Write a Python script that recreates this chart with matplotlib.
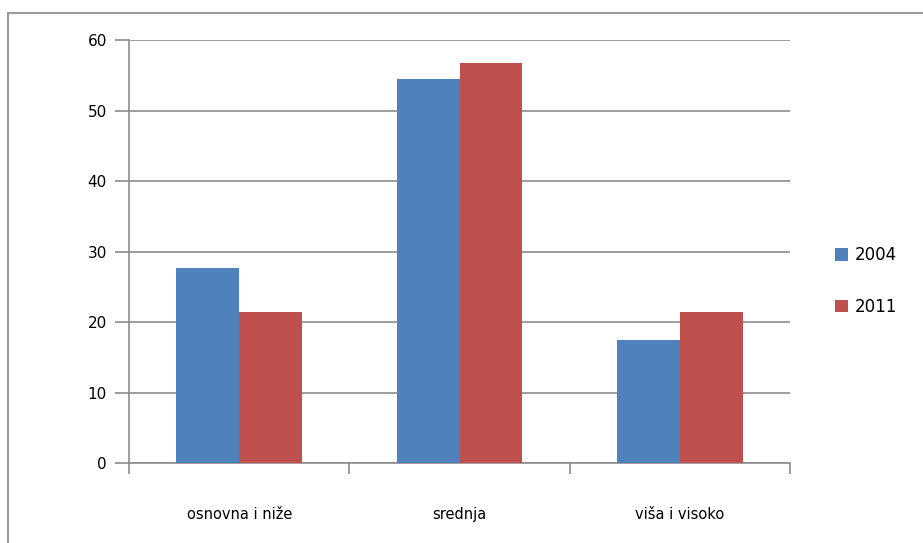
import matplotlib.pyplot as plt
import numpy as np
from matplotlib.patches import Rectangle

# podaci
kategorije = ['osnovna i niže', 'srednja', 'viša i visoko']
godine = ['2004', '2011']
vrijednosti_2004 = [27.6, 54.5, 17.4]
vrijednosti_2011 = [21.4, 56.8, 21.4]
boje = ['#4F81BD', '#C0504D']

fig = plt.figure(figsize=(9.23, 5.43), dpi=100)
ax = fig.add_axes([0.1398, 0.1473, 0.7164, 0.7790])

# okvir oko grafikona
fig.patches.append(Rectangle((8 / 923, -0.05), 1.0, 1 - 13 / 543 + 0.05,
                             transform=fig.transFigure, fill=False,
                             edgecolor='#9a9a9a', linewidth=1.5))

x = np.arange(len(kategorije))
sirina = 0.285
for i, (g, vals, c) in enumerate(zip(godine, [vrijednosti_2004, vrijednosti_2011], boje)):
    ax.bar(x + (i - 0.5) * sirina, vals, width=sirina, color=c, label=g, zorder=3)

ax.set_xlim(-0.5, len(kategorije) - 0.5)
ax.set_ylim(0, 60)
ax.set_yticks(range(0, 61, 10))
ax.yaxis.grid(True, color='#8c8c8c', linewidth=1.2, zorder=0)
ax.set_axisbelow(True)

ax.set_xticks(x)
ax.set_xticklabels(kategorije, fontsize=10.5, family='DejaVu Sans')
ax.set_xticks(np.arange(-0.5, len(kategorije), 1.0), minor=True)
ax.tick_params(axis='x', which='major', length=0, pad=32)
ax.tick_params(axis='x', which='minor', length=8, color='#8c8c8c', width=1.2)
ax.tick_params(axis='y', length=10, color='#8c8c8c', width=1.2, labelsize=11, pad=6)

for s in ['top', 'right']:
    ax.spines[s].set_visible(False)
for s in ['left', 'bottom']:
    ax.spines[s].set_color('#8c8c8c')
    ax.spines[s].set_linewidth(1.2)

ax.legend(loc='center left', bbox_to_anchor=(1.045, 0.43), frameon=False,
          fontsize=12, handlelength=0.8, handleheight=0.8, handletextpad=0.4,
          labelspacing=2.0)

fig.savefig('out.png', dpi=100)
